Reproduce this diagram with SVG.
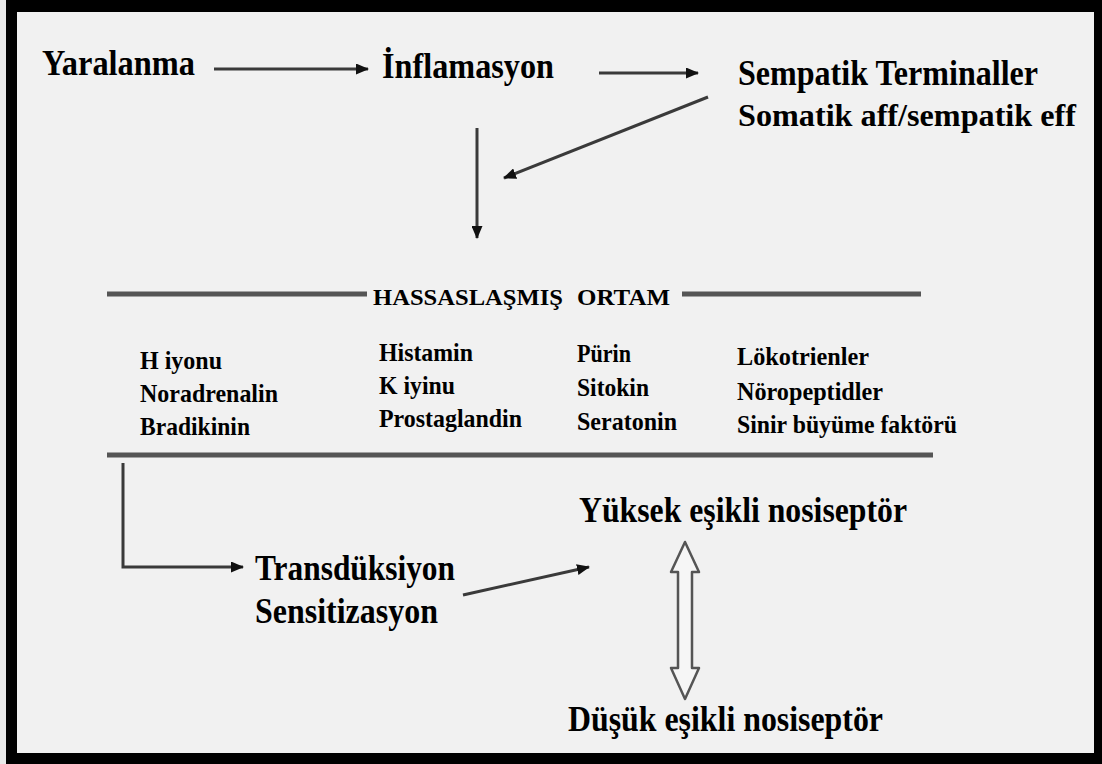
<svg xmlns="http://www.w3.org/2000/svg" width="1102" height="764" viewBox="0 0 1102 764">
<defs>
<style>
.t{font-family:"Liberation Serif","Times New Roman",serif;font-weight:bold;fill:#000;}
.big{font-size:35px;}
.mid{font-size:25px;}
.hd{font-size:23px;}
.ln{stroke:#3a3a3a;stroke-width:3;fill:none;}
.bar{stroke:#555;stroke-width:5;fill:none;}
</style>
<marker id="ah" viewBox="0 0 13 11" refX="12" refY="5.5" markerWidth="13" markerHeight="11" markerUnits="userSpaceOnUse" orient="auto">
<path d="M0,0 L13,5.5 L0,11 Z" fill="#111"/>
</marker>
</defs>
<rect x="0" y="0" width="1102" height="764" fill="#e9e9e9"/>
<rect x="6" y="0" width="1096" height="764" fill="#000"/>
<rect x="17" y="12" width="1077" height="741" fill="#f1f1f1"/>

<g id="connectors">
<line class="ln" x1="214" y1="69" x2="368" y2="69" marker-end="url(#ah)"/>
<line class="ln" x1="599" y1="73" x2="698" y2="73" marker-end="url(#ah)"/>
<line class="ln" x1="708" y1="97" x2="504" y2="178" marker-end="url(#ah)"/>
<line class="ln" x1="477" y1="128" x2="477" y2="238" marker-end="url(#ah)"/>
<polyline class="ln" points="123,463 123,567 243,567" marker-end="url(#ah)"/>
<line class="ln" x1="463" y1="595" x2="589" y2="567" marker-end="url(#ah)"/>
<path d="M685,542 L699,572 L692,572 L692,668 L699,668 L685,699 L671,668 L678,668 L678,572 L671,572 Z" fill="#f6f6f6" stroke="#555" stroke-width="2.5" stroke-linejoin="round"/>
</g>

<g id="yaralanma"><text class="t big" x="42" y="75" textLength="153" lengthAdjust="spacingAndGlyphs">Yaralanma</text></g>
<g id="inflamasyon"><text class="t big" x="382" y="78" textLength="172" lengthAdjust="spacingAndGlyphs">İnflamasyon</text></g>
<g id="sempatik">
<text class="t big" x="738" y="85" textLength="300" lengthAdjust="spacingAndGlyphs">Sempatik Terminaller</text>
<text class="t" font-size="32.5" x="738" y="126" textLength="338" lengthAdjust="spacingAndGlyphs">Somatik aff/sempatik eff</text>
</g>

<g id="hassas">
<line class="bar" x1="107" y1="294" x2="367" y2="294"/>
<line class="bar" x1="682" y1="294" x2="921" y2="294"/>
<line class="bar" x1="107" y1="455" x2="933" y2="455"/>
<text class="t hd" x="373" y="305" textLength="190" lengthAdjust="spacingAndGlyphs">HASSASLAŞMIŞ</text>
<text class="t hd" x="577" y="305" textLength="93" lengthAdjust="spacingAndGlyphs">ORTAM</text>
</g>

<g id="col1">
<text class="t mid" x="140" y="369" textLength="82" lengthAdjust="spacingAndGlyphs">H iyonu</text>
<text class="t mid" x="140" y="402" textLength="138" lengthAdjust="spacingAndGlyphs">Noradrenalin</text>
<text class="t mid" x="140" y="435" textLength="110" lengthAdjust="spacingAndGlyphs">Bradikinin</text>
</g>
<g id="col2">
<text class="t mid" x="379" y="361" textLength="94" lengthAdjust="spacingAndGlyphs">Histamin</text>
<text class="t mid" x="379" y="394" textLength="76" lengthAdjust="spacingAndGlyphs">K iyinu</text>
<text class="t mid" x="379" y="427" textLength="143" lengthAdjust="spacingAndGlyphs">Prostaglandin</text>
</g>
<g id="col3">
<text class="t mid" x="577" y="362" textLength="54" lengthAdjust="spacingAndGlyphs">Pürin</text>
<text class="t mid" x="577" y="396" textLength="72" lengthAdjust="spacingAndGlyphs">Sitokin</text>
<text class="t mid" x="577" y="430" textLength="100" lengthAdjust="spacingAndGlyphs">Seratonin</text>
</g>
<g id="col4">
<text class="t mid" x="737" y="365" textLength="132" lengthAdjust="spacingAndGlyphs">Lökotrienler</text>
<text class="t mid" x="737" y="400" textLength="146" lengthAdjust="spacingAndGlyphs">Nöropeptidler</text>
<text class="t mid" x="737" y="433" textLength="220" lengthAdjust="spacingAndGlyphs">Sinir büyüme faktörü</text>
</g>

<g id="transduksiyon">
<text class="t big" x="255" y="580" textLength="200" lengthAdjust="spacingAndGlyphs">Transdüksiyon</text>
<text class="t big" x="255" y="623" textLength="183" lengthAdjust="spacingAndGlyphs">Sensitizasyon</text>
</g>
<g id="yuksek"><text class="t big" x="579" y="522" textLength="328" lengthAdjust="spacingAndGlyphs">Yüksek eşikli nosiseptör</text></g>
<g id="dusuk"><text class="t big" x="568" y="731" textLength="315" lengthAdjust="spacingAndGlyphs">Düşük eşikli nosiseptör</text></g>
</svg>
